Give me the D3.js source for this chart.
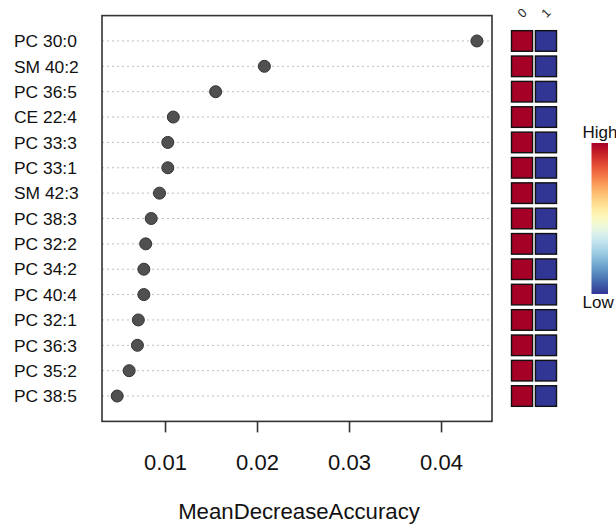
<!DOCTYPE html>
<html>
<head>
<meta charset="utf-8">
<script src="https://cdn.jsdelivr.net/npm/d3@7"></script>
<style>
  html, body { margin: 0; padding: 0; background: #fff; }
  svg { display: block; font-family: "Liberation Sans", Arial, sans-serif; }
</style>
</head>
<body>
<div id="chart"></div>
<script>
// Features ranked by importance (top to bottom)
const features = ["PC 30:0", "SM 40:2", "PC 36:5", "CE 22:4", "PC 33:3", "PC 33:1", "SM 42:3",
  "PC 38:3", "PC 32:2", "PC 34:2", "PC 40:4", "PC 32:1", "PC 36:3", "PC 35:2", "PC 38:5"];
const meanDecreaseAccuracy = [0.0439, 0.0208, 0.0155, 0.0109, 0.0103, 0.0103, 0.0094,
  0.0085, 0.0079, 0.0077, 0.0077, 0.0071, 0.0070, 0.0061, 0.0048];

// Group columns of the mini heatmap and their relative level (1 = high, 0 = low)
const groups = ["0", "1"];
const levelGroup0 = [1, 1, 1, 1, 1, 1, 1, 1, 1, 1, 1, 1, 1, 1, 1];
const levelGroup1 = [0, 0, 0, 0, 0, 0, 0, 0, 0, 0, 0, 0, 0, 0, 0];

const xTicks = [0.01, 0.02, 0.03, 0.04];
const xTitle = "MeanDecreaseAccuracy";
const legendLabels = ["High", "Low"];

const W = 616, H = 528;
const plot = {left: 102, right: 492, top: 15.6, bottom: 421.4};

const svg = d3.select("#chart")
    .append("svg")
    .attr("width", W)
    .attr("height", H);

// Scales
const xScale = d3.scaleLinear()
    .domain([0.00315, 0.04554])
    .range([plot.left, plot.right]);

const yScale = d3.scaleLinear()
    .domain([-1, features.length])
    .range([plot.top, plot.bottom]);

const color = t => d3.interpolateRdYlBu(1 - t);

// Dotted guide lines
svg.append("g")
    .selectAll("line")
    .data(features)
    .join("line")
    .attr("x1", plot.left)
    .attr("x2", plot.right)
    .attr("y1", (d, i) => yScale(i))
    .attr("y2", (d, i) => yScale(i))
    .attr("stroke", "#bdbdbd")
    .attr("stroke-width", 1)
    .attr("stroke-dasharray", "2,3");

// Plot box
svg.append("rect")
    .attr("x", plot.left)
    .attr("y", plot.top)
    .attr("width", plot.right - plot.left)
    .attr("height", plot.bottom - plot.top)
    .attr("fill", "none")
    .attr("stroke", "#333")
    .attr("stroke-width", 1.6);

// Row labels (left aligned, like dotchart)
svg.append("g")
    .selectAll("text")
    .data(features)
    .join("text")
    .attr("x", 14)
    .attr("y", (d, i) => yScale(i))
    .attr("dy", "0.36em")
    .attr("font-size", 17.4)
    .attr("fill", "#111")
    .text(d => d);

// Dots
svg.append("g")
    .selectAll("circle")
    .data(meanDecreaseAccuracy)
    .join("circle")
    .attr("cx", d => xScale(d))
    .attr("cy", (d, i) => yScale(i))
    .attr("r", 6)
    .attr("fill", "#505050")
    .attr("stroke", "#333")
    .attr("stroke-width", 1);

// X axis
const xAxis = d3.axisBottom(xScale)
    .tickValues(xTicks)
    .tickSize(11)
    .tickPadding(22)
    .tickFormat(d3.format(".2f"));

const gx = svg.append("g")
    .attr("transform", `translate(0,${plot.bottom})`)
    .call(xAxis);
gx.select(".domain").remove();
gx.selectAll(".tick line").attr("stroke", "#333").attr("stroke-width", 1.6);
gx.selectAll(".tick text")
    .attr("font-size", 22)
    .attr("font-family", "Liberation Sans, Arial, sans-serif")
    .attr("fill", "#111");

svg.append("text")
    .attr("x", (plot.left + plot.right) / 2 + 2)
    .attr("y", 519)
    .attr("text-anchor", "middle")
    .attr("font-size", 22.2)
    .attr("fill", "#111")
    .text(xTitle);

// Mini heatmap
const xBand = d3.scaleBand()
    .domain(groups)
    .range([511.5, 556.5])
    .paddingInner(0.12);
const cellH = 20.6;

const levels = [levelGroup0, levelGroup1];
groups.forEach((g, gi) => {
    svg.append("g")
        .selectAll("rect")
        .data(levels[gi])
        .join("rect")
        .attr("x", xBand(g))
        .attr("y", (d, i) => yScale(i) - cellH / 2)
        .attr("width", xBand.bandwidth())
        .attr("height", cellH)
        .attr("fill", d => color(d))
        .attr("stroke", "#111")
        .attr("stroke-width", 1.4);
});

// Group labels, rotated
svg.append("g")
    .selectAll("text")
    .data(groups)
    .join("text")
    .attr("transform", d => `translate(${xBand(d) + xBand.bandwidth() / 2},${13}) rotate(-45)`)
    .attr("text-anchor", "middle")
    .attr("dy", "0.35em")
    .attr("font-size", 12.5)
    .attr("fill", "#222")
    .text(d => d);

// Colour bar
const defs = svg.append("defs");
const grad = defs.append("linearGradient")
    .attr("id", "cbar")
    .attr("x1", 0).attr("y1", 1)
    .attr("x2", 0).attr("y2", 0);
grad.selectAll("stop")
    .data(d3.range(0, 1.0001, 0.05))
    .join("stop")
    .attr("offset", d => d)
    .attr("stop-color", d => color(d));

const cbScale = d3.scaleLinear().domain([0, 1]).range([294, 143]);
svg.append("rect")
    .attr("x", 591.5)
    .attr("y", cbScale(1))
    .attr("width", 16.5)
    .attr("height", cbScale(0) - cbScale(1))
    .attr("fill", "url(#cbar)");

svg.append("text")
    .attr("x", 582.5)
    .attr("y", cbScale(1) - 5)
    .attr("font-size", 17)
    .attr("fill", "#111")
    .text(legendLabels[0]);

svg.append("text")
    .attr("x", 582.5)
    .attr("y", cbScale(0) + 14)
    .attr("font-size", 17)
    .attr("fill", "#111")
    .text(legendLabels[1]);
</script>
</body>
</html>
